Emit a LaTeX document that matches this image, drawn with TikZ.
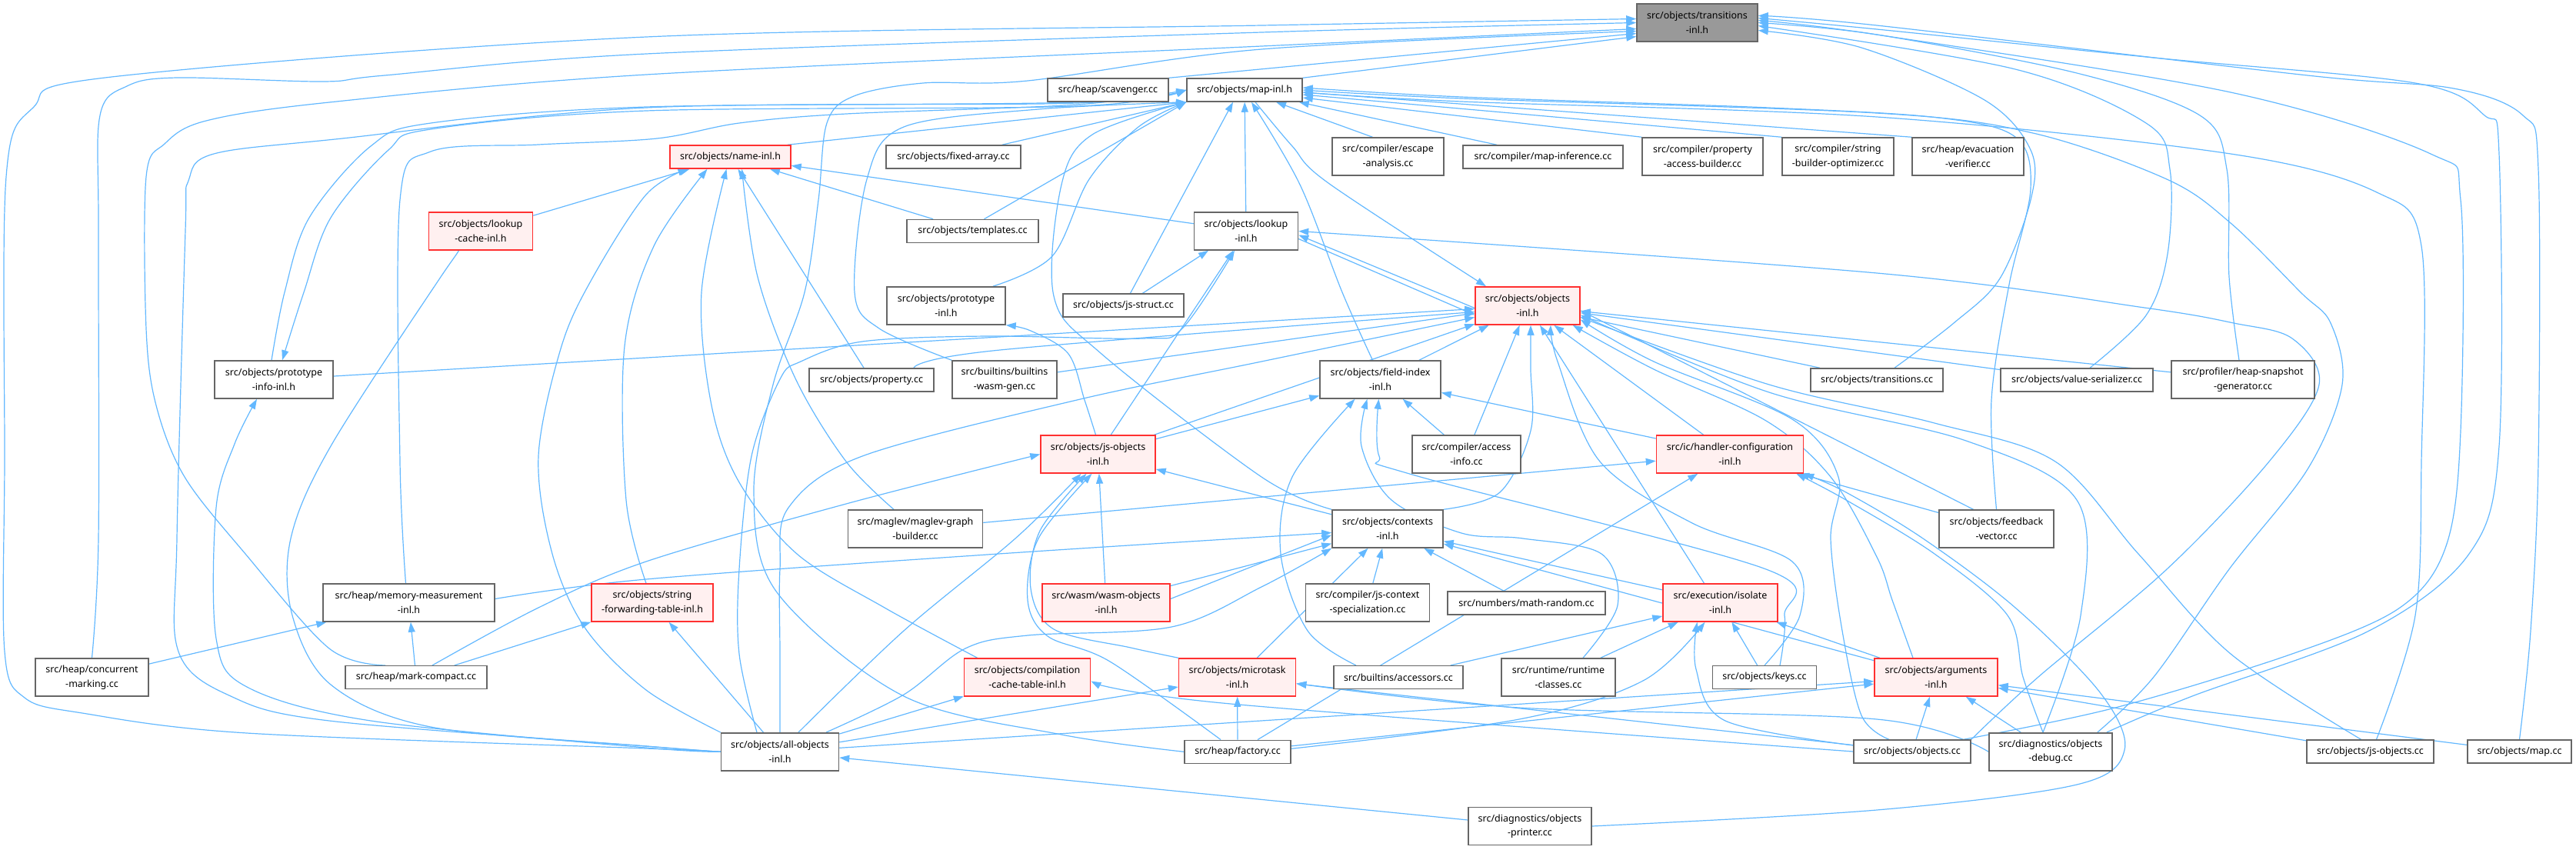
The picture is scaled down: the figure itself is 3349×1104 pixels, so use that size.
\documentclass[tikz,border=0pt]{standalone}
\usepackage{fontspec}
\setmainfont{Noto Sans}
\usetikzlibrary{arrows.meta}
\definecolor{edgeblue}{HTML}{63B8FF}
\definecolor{boxgray}{HTML}{666666}
\definecolor{boxred}{HTML}{FF3030}
\definecolor{hotfill}{HTML}{FFF0F0}
\definecolor{rootgray}{HTML}{999999}
\pgfdeclarelayer{background}
\pgfsetlayers{background,main}

\begin{document}
\begin{tikzpicture}[x=1pt,y=-1pt,
  file/.style={draw=boxgray,fill=white,line width=1.5pt,inner sep=0pt,align=center,
    font=\fontsize{12.5}{18.5}\selectfont},
  oneline/.style={file,minimum height=30pt},
  twoline/.style={file,minimum height=49pt},
  hot/.style={draw=boxred,fill=hotfill},
  root/.style={fill=rootgray},
  inc/.style={draw=edgeblue,line width=1.2pt,-{Triangle[length=13pt,width=9pt]}},
  route/.style={inc,smooth,tension=.55}]

\useasboundingbox (0,0) rectangle (3349,1104);

% === row 0 ===
\node[twoline,root,minimum width=157pt] (trinl) at (2206.5,29.5) {src/objects/transitions\\-inl.h};

% === row 1 ===
\node[oneline,minimum width=157pt] (scav) at (1440.5,117) {src/heap/scavenger.cc};
\node[oneline,minimum width=150pt] (mapinl) at (1618,117) {src/objects/map-inl.h};

% === row 2 ===
\node[oneline,hot,minimum width=157pt] (nameinl) at (949.5,204) {src/objects/name-inl.h};
\node[oneline,minimum width=175pt] (fixarr) at (1239.5,204) {src/objects/fixed-array.cc};
\node[twoline,minimum width=145pt] (escape) at (1804.5,203.5) {src/compiler/escape\\-analysis.cc};
\node[oneline,minimum width=208pt] (mapinf) at (2006,204) {src/compiler/map-inference.cc};
\node[twoline,minimum width=157pt] (propacc) at (2213.5,203.5) {src/compiler/property\\-access-builder.cc};
\node[twoline,minimum width=145pt] (strbuild) at (2389.5,203.5) {src/compiler/string\\-builder-optimizer.cc};
\node[twoline,minimum width=145pt] (evac) at (2558.5,203.5) {src/heap/evacuation\\-verifier.cc};

% === row 3 ===
\node[twoline,hot,minimum width=135pt] (lookupcache) at (625,300.5) {src/objects/lookup\\-cache-inl.h};
\node[oneline,minimum width=171pt] (templates) at (1264.5,300.5) {src/objects/templates.cc};
\node[twoline,minimum width=135pt] (lookupinl) at (1620,300.5) {src/objects/lookup\\-inl.h};

% === row 4 ===
\node[twoline,minimum width=154pt] (protoinl) at (1230,397.5) {src/objects/prototype\\-inl.h};
\node[oneline,minimum width=157pt] (jsstruct) at (1460.5,397) {src/objects/js-struct.cc};
\node[twoline,hot,minimum width=136pt] (objinl) at (1986,397.5) {src/objects/objects\\-inl.h};

% === row 5 ===
\node[twoline,minimum width=154pt] (protoinfo) at (356,493.5) {src/objects/prototype\\-info-inl.h};
\node[oneline,minimum width=162pt] (property) at (1133,494) {src/objects/property.cc};
\node[twoline,minimum width=136pt] (wasmgen) at (1306,493.5) {src/builtins/builtins\\-wasm-gen.cc};
\node[twoline,minimum width=157pt] (fieldidx) at (1794.5,493.5) {src/objects/field-index\\-inl.h};
\node[oneline,minimum width=172pt] (trcc) at (2440,494) {src/objects/transitions.cc};
\node[oneline,minimum width=198pt] (valser) at (2700,494) {src/objects/value-serializer.cc};
\node[twoline,minimum width=186pt] (heapsnap) at (2916,493.5) {src/profiler/heap-snapshot\\-generator.cc};

% === row 6 ===
\node[twoline,hot,minimum width=149pt] (jsobjinl) at (1427.5,590.5) {src/objects/js-objects\\-inl.h};
\node[twoline,minimum width=141pt] (accessinfo) at (1906.5,590.5) {src/compiler/access\\-info.cc};
\node[twoline,hot,minimum width=191pt] (handler) at (2249,590.5) {src/ic/handler-configuration\\-inl.h};

% === row 7 ===
\node[twoline,minimum width=175pt] (maglev) at (1190,687.5) {src/maglev/maglev-graph\\-builder.cc};
\node[twoline,minimum width=144pt] (contexts) at (1804,687.5) {src/objects/contexts\\-inl.h};
\node[twoline,minimum width=149pt] (feedback) at (2595.5,687.5) {src/objects/feedback\\-vector.cc};

% === row 8 ===
\node[twoline,minimum width=223pt] (memmeas) at (531.5,783.5) {src/heap/memory-measurement\\-inl.h};
\node[twoline,hot,minimum width=158pt] (strfwd) at (848,783.5) {src/objects/string\\-forwarding-table-inl.h};
\node[twoline,hot,minimum width=166pt] (wasm) at (1438,783.5) {src/wasm/wasm-objects\\-inl.h};
\node[twoline,minimum width=161pt] (jsctx) at (1778,783.5) {src/compiler/js-context\\-specialization.cc};
\node[oneline,minimum width=205pt] (mathrand) at (1984.5,784) {src/numbers/math-random.cc};
\node[twoline,hot,minimum width=149pt] (isolateinl) at (2236.5,783.5) {src/execution/isolate\\-inl.h};

% === row 9 ===
\node[twoline,minimum width=147pt] (concmark) at (119.5,880.5) {src/heap/concurrent\\-marking.cc};
\node[oneline,minimum width=184pt] (markcomp) at (541,880.7) {src/heap/mark-compact.cc};
\node[twoline,hot,minimum width=164pt] (compcache) at (1335.6,880.5) {src/objects/compilation\\-cache-table-inl.h};
\node[twoline,hot,minimum width=152pt] (microtask) at (1608.6,880.5) {src/objects/microtask\\-inl.h};
\node[oneline,minimum width=168pt] (accessors) at (1818,880.7) {src/builtins/accessors.cc};
\node[twoline,minimum width=148pt] (runtime) at (2026,880.5) {src/runtime/runtime\\-classes.cc};
\node[oneline,minimum width=135pt] (keys) at (2294,880.7) {src/objects/keys.cc};
\node[twoline,hot,minimum width=160pt] (arguments) at (2517,880.5) {src/objects/arguments\\-inl.h};

% === row 10 ===
\node[twoline,minimum width=153pt] (allobj) at (1014,977.3) {src/objects/all-objects\\-inl.h};
\node[oneline,minimum width=138pt] (factory) at (1609,977.3) {src/heap/factory.cc};
\node[oneline,minimum width=152pt] (objcc) at (2486,977) {src/objects/objects.cc};
\node[twoline,minimum width=160pt] (objdebug) at (2666,977.3) {src/diagnostics/objects\\-debug.cc};
\node[oneline,minimum width=165pt] (jsobjcc) at (3081.5,977) {src/objects/js-objects.cc};
\node[oneline,minimum width=135pt] (mapcc) at (3275.5,977) {src/objects/map.cc};

% === row 11 ===
\node[twoline,minimum width=160pt] (objprinter) at (1989,1074) {src/diagnostics/objects\\-printer.cc};

\begin{pgfonlayer}{background}
% === straight includes ===
\foreach \src/\dst in {lookupinl/mapinl,
    lookupcache/nameinl, property/nameinl, templates/nameinl, lookupinl/nameinl,
    jsobjinl/lookupinl,
    protoinfo/objinl, wasmgen/objinl, jsobjinl/objinl, fieldidx/objinl,
    accessinfo/objinl, handler/objinl, trcc/objinl, valser/objinl, heapsnap/objinl,
    handler/fieldidx, accessinfo/fieldidx, jsobjinl/fieldidx,
    wasm/jsobjinl, contexts/jsobjinl,
    maglev/handler, factory/handler, feedback/handler,
    wasm/contexts, jsctx/contexts, mathrand/contexts,
    microtask/contexts, isolateinl/contexts, arguments/contexts,
    accessors/isolateinl, runtime/isolateinl, keys/isolateinl, arguments/isolateinl,
    factory/arguments, allobj/arguments, objcc/arguments, objdebug/arguments,
    jsobjcc/arguments, mapcc/arguments,
    allobj/compcache, allobj/microtask, factory/microtask, objcc/microtask,
    concmark/memmeas, markcomp/memmeas, markcomp/strfwd, allobj/strfwd,
    objprinter/allobj}
  \draw[inc] (\src) -- (\dst);

% === anchored includes ===
\draw[inc] (scav.north east) -- ([yshift=-14pt]trinl.west);
\draw[inc] (mapinl.north east) -- ([yshift=-18pt]trinl.west);
\draw[inc] ([xshift=-5pt]nameinl.north east) -- (mapinl.south west);
\draw[inc] ([xshift=-25pt]fixarr.north east) -- (mapinl.south west);
\draw[inc] ([xshift=15pt]templates.north) -- (mapinl.south west);
\draw[inc] ([xshift=9pt]jsstruct.north) -- ([xshift=-15pt]mapinl.south);
\draw[inc] ([xshift=25pt]jsstruct.north) -- ([xshift=-49pt]lookupinl.south);
\draw[inc] ([xshift=-20pt]escape.north) -- ([xshift=41pt]mapinl.south);
\draw[inc] ([xshift=-60pt]mapinf.north) -- ([xshift=-5pt]mapinl.south east);
\draw[inc] (propacc.north west) -- ([yshift=-10pt]mapinl.east);
\draw[inc] (strbuild.north west) -- ([yshift=-6pt]mapinl.east);
\draw[inc] (evac.north west) -- ([yshift=-3pt]mapinl.east);
\draw[route] plot coordinates {([xshift=14pt]mapinl.south) (1680,190) (1727,238) ([xshift=-54pt]objinl.north)};
\draw[inc] ([yshift=-3pt]objinl.west) -- ([yshift=-5pt]lookupinl.east);
\draw[inc] ([yshift=-10pt]lookupinl.east) -- ([yshift=-12pt]objinl.west);
\draw[inc] ([xshift=-21pt]isolateinl.north) -- ([xshift=16pt]objinl.south);
\draw[inc] ([xshift=-30pt]feedback.north) -- ([yshift=-6pt]objinl.east);
\draw[inc] ([yshift=5pt]wasm.east) -- ([yshift=-8pt]contexts.west);

% === long routes into transitions-inl.h ===
\draw[route] plot coordinates {(allobj.west) (840,973) (321,953) (107,927) (32,907) (6,847) (6,600) (8,230) (43,140) (145,100) (840,48) (1640,33) ([yshift=5pt]trinl.west)};
\draw[route] plot coordinates {(concmark.north) (128,700) (128,300) (130,150) (165,112) (230,101) (420,106) (500,98) (840,70) (1640,42) (trinl.west)};
\draw[route] plot coordinates {([xshift=-40pt]markcomp.north) (428,843) (319,720) (240,620) (203,527) (190,427) (190,230) (214,187) (268,157) (428,133) (840,97) (1640,60) ([yshift=-8pt]trinl.west)};
\draw[route] plot coordinates {(factory.west) (1380,955) (1175,905) (1010,770) (980,640) (1005,500) (1046,380) (1064,260) (1075,160) (1110,125) (1200,108) (1336,105) (1640,64) ([yshift=-11pt]trinl.west)};
\draw[route] plot coordinates {([xshift=23pt]trcc.north) (2540,420) (2600,362) (2640,260) (2640,195) (2580,130) (2420,62) ([yshift=-10pt]trinl.east)};
\draw[route] plot coordinates {([xshift=17pt]valser.north) (2790,410) (2818,330) (2821,220) (2790,160) (2620,90) ([yshift=-4pt]trinl.east)};
\draw[route] plot coordinates {([xshift=-5pt]heapsnap.north) (2898,360) (2895,220) (2860,150) (2700,95) (2440,45) (trinl.east)};
\draw[route] plot coordinates {([xshift=-10pt]objcc.north east) (2750,920) (2980,850) (3120,790) (3180,710) (3199,560) (3199,260) (3160,200) (2900,120) (2440,45) ([yshift=3pt]trinl.east)};
\draw[route] plot coordinates {([xshift=-8pt]objdebug.north east) (2850,905) (3080,820) (3210,720) (3249,580) (3249,200) (3230,150) (3140,108) (2800,75) (2440,38) ([yshift=6pt]trinl.east)};
\draw[route] plot coordinates {(mapcc.north) (3290,820) (3300,600) (3300,220) (3280,150) (3190,115) (3000,98) (2440,33) ([yshift=9pt]trinl.east)};

% === long routes into map-inl.h ===
\draw[route] plot coordinates {([xshift=8pt]jsobjcc.north) (3140,800) (3148,600) (3148,320) (3090,250) (2900,200) (2440,152) (1900,132) ([yshift=-3pt]mapinl.east)};
\draw[route] plot coordinates {([xshift=-20pt]objdebug.north east) (2800,880) (2898,740) (3000,610) (3045,500) (3030,420) (2991,380) (2900,290) (2817,233) (2643,173) (2440,147) (1900,128) (mapinl.east)};
\draw[route] plot coordinates {(feedback.north) (2589,520) (2612,370) (2640,245) (2620,178) (2520,153) (2300,140) (1900,126) ([yshift=3pt]mapinl.east)};
\draw[route] plot coordinates {(contexts.north west) (1640,620) (1432,460) (1370,385) (1380,240) (1420,175) (mapinl.south west)};
\draw[route] plot coordinates {([xshift=-17pt]protoinl.north east) (1368,333) (1416,233) (1480,165) (mapinl.south west)};
\draw[route] plot coordinates {(wasmgen.north west) (1143,427) (1111,380) (1127,233) (1175,165) (1350,142) (mapinl.south west)};
\draw[route] plot coordinates {([xshift=-4pt]memmeas.north) (520,600) (520,260) (560,197) (700,188) (854,180) (961,160) (1100,148) (1400,136) (mapinl.west)};
\draw[route] plot coordinates {(allobj.west) (840,970) (428,937) (300,905) (232,847) (230,700) (241,300) (245,235) (278,200) (445,180) (840,140) (1400,134) (mapinl.west)};
\draw[route] plot coordinates {([xshift=-3pt]protoinfo.north) (370,380) (402,283) (482,190) (560,160) (840,139) (1400,133) (mapinl.west)};
\draw[route] plot coordinates {(mapinl.west) (1400,138) (840,144) (560,168) (505,195) (430,283) (395,380) ([xshift=11pt]protoinfo.north)};
\draw[route] plot coordinates {([xshift=-10pt]fieldidx.north) (1745,380) (1690,240) ([xshift=9pt]mapinl.south)};

% === routes into name-inl.h and lookup headers ===
\draw[route] plot coordinates {(allobj.north west) (840,897) (761,817) (718,720) (700,593) (730,450) (771,360) (840,253) ([xshift=-55pt]nameinl.south)};
\draw[route] plot coordinates {([xshift=-8pt]strfwd.north) (814,650) (812,450) (850,320) ([xshift=-30pt]nameinl.south)};
\draw[route] plot coordinates {([xshift=-65pt]compcache.north) (1150,790) (1036,720) (961,627) (925,527) (912,380) ([xshift=-5pt]nameinl.south)};
\draw[route] plot coordinates {([xshift=-28pt]maglev.north) (1100,600) (1035,494) (985,360) ([xshift=15pt]nameinl.south)};
\draw[route] plot coordinates {(allobj.west) (840,970) (560,945) (430,890) (380,800) (378,700) (430,580) (573,360) ([xshift=-25pt]lookupcache.south)};
\draw[route] plot coordinates {(allobj.west) (840,972) (482,937) (321,893) (281,830) (281,660) (305,577) ([xshift=-22pt]protoinfo.south)};
\draw[route] plot coordinates {([xshift=-30pt]allobj.north) (961,850) (961,740) (977,593) (1014,493) (1041,470) (1121,444) (1282,437) (1486,440) (1537,427) ([xshift=-15pt]lookupinl.south)};
\draw[route] plot coordinates {(objcc.north east) (2650,880) (2817,740) (2950,600) (3015,500) (2980,440) (2904,420) (2788,400) (2440,355) (lookupinl.east)};

% === routes into objects-inl.h ===
\draw[route] plot coordinates {(allobj.north) (1014,850) (1014,740) (1025,660) (1121,593) (1400,520) (1640,470) ([yshift=-15pt]objinl.west)};
\draw[route] plot coordinates {([xshift=55pt]property.north) (1300,455) ([yshift=-8pt]objinl.west)};
\draw[route] plot coordinates {(contexts.north east) (1950,640) (1990,560) (1990,480) ([xshift=4pt]objinl.south)};
\draw[route] plot coordinates {([xshift=-30pt]arguments.north) (2460,780) (2440,724) (2380,620) (2296,547) (2150,480) ([xshift=-10pt]objinl.south east)};
\draw[route] plot coordinates {(keys.north) (2340,800) (2330,730) (2200,680) (2080,600) (2025,470) ([xshift=30pt]objinl.south)};
\draw[route] plot coordinates {([xshift=-30pt]objcc.north) (2420,930) (2395,820) (2380,700) (2390,620) (2330,545) (2150,470) ([yshift=-18pt]objinl.east)};
\draw[route] plot coordinates {([xshift=-10pt]objdebug.north) (2705,800) (2700,650) (2556,573) (2300,510) ([yshift=-12pt]objinl.east)};
\draw[route] plot coordinates {([xshift=-12pt]jsobjcc.north) (2900,850) (2780,720) (2672,600) (2515,550) (2300,500) ([yshift=-15pt]objinl.east)};

% === routes into lower headers ===
\draw[route] plot coordinates {([xshift=-3pt]jsobjinl.north) (1410,520) (1389,460) (1340,430) (protoinl.south east)};
\draw[route] plot coordinates {([xshift=24pt]allobj.north) (1175,820) (1320,700) ([xshift=-22pt]jsobjinl.south)};
\draw[route] plot coordinates {([xshift=-22pt]factory.north) (1443,860) (1362,827) (1336,780) (1350,700) ([xshift=-8pt]jsobjinl.south)};
\draw[route] plot coordinates {(microtask.north west) (1470,842) (1370,818) (1340,765) (1352,690) ([xshift=-15pt]jsobjinl.south)};
\draw[route] plot coordinates {([xshift=21pt]markcomp.north) (700,790) (840,730) (1100,655) (jsobjinl.west)};
\draw[route] plot coordinates {([xshift=-55pt]accessors.north) (1700,820) (1665,720) (1680,620) ([xshift=-33pt]fieldidx.south)};
\draw[route] plot coordinates {([xshift=32pt]runtime.north) (2103,787) (2082,720) (1980,700) (1900,693) (1809,650) (1770,580) ([xshift=-17pt]fieldidx.south)};
\draw[route] plot coordinates {([xshift=20pt]keys.north) (2320,800) (2296,740) (1836,617) (1793,593) ([xshift=-2pt]fieldidx.south)};
\draw[route] plot coordinates {([xshift=-10pt]objdebug.north) (2630,880) (2610,800) (2515,720) (2400,650) ([xshift=-10pt]handler.south east)};
\draw[route] plot coordinates {(objprinter.east) (2440,1053) (2700,1020) (2762,975) (2730,900) (2620,790) (2500,700) (2400,640) (handler.south east)};
\draw[route] plot coordinates {([yshift=5pt]memmeas.east) (840,753) (1298,720) ([yshift=-5pt]contexts.west)};
\draw[route] plot coordinates {([xshift=60pt]allobj.north) (1175,903) (1255,843) (1336,826) (1523,815) (1640,763) (contexts.south west)};
\draw[route] plot coordinates {([yshift=4pt]factory.east) (1975,935) (2136,885) ([xshift=-20pt]isolateinl.south)};
\draw[route] plot coordinates {([yshift=8pt]objcc.west) (2243,937) (2205,870) ([xshift=-30pt]isolateinl.south)};
\draw[route] plot coordinates {(objcc.west) (1600,915) ([yshift=-5pt]compcache.east)};
\draw[route] plot coordinates {(objdebug.west) (2440,935) (1975,920) ([yshift=-8pt]microtask.east)};
\end{pgfonlayer}

\end{tikzpicture}
\end{document}
